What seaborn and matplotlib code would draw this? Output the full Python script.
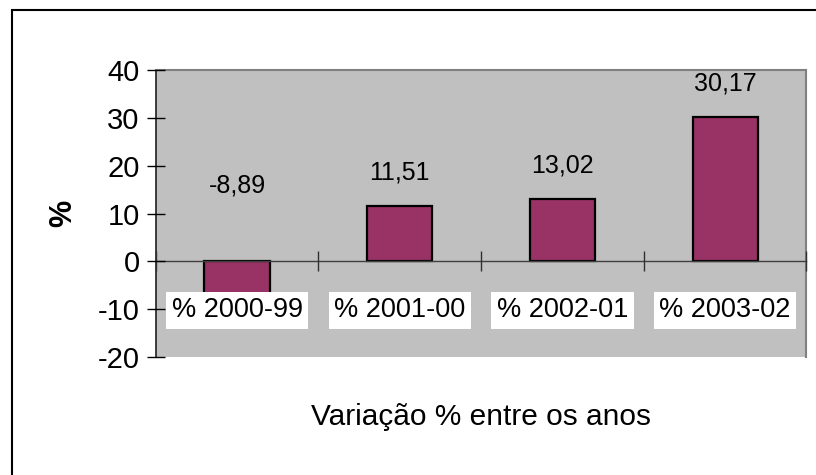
import numpy as np
import pandas as pd
import matplotlib
matplotlib.use("Agg")
import matplotlib.pyplot as plt
from matplotlib.patches import Rectangle
from matplotlib.ticker import FixedLocator
import seaborn as sns

# chart data
periods = ["% 2000-99", "% 2001-00", "% 2002-01", "% 2003-02"]
variation = [-8.89, 11.51, 13.02, 30.17]
y_ticks = [-20, -10, 0, 10, 20, 30, 40]
x_title = "Variação % entre os anos"
y_title = "%"

sns.set_style("white")
plt.rcParams['font.family'] = ['Liberation Sans Narrow', 'Liberation Sans', 'DejaVu Sans']
plt.rcParams['text.color'] = 'black'
plt.rcParams['axes.labelcolor'] = 'black'
plt.rcParams['xtick.color'] = 'black'
plt.rcParams['ytick.color'] = 'black'

df = pd.DataFrame({"periodo": periods, "variacao": variation})

fig = plt.figure(figsize=(8.16, 4.75), dpi=100)
ax = fig.add_axes([0.1908, 0.2484, 0.7975, 0.6042])
ax.set_facecolor("#C0C0C0")

sns.barplot(data=df, x="periodo", y="variacao", color="#993366", saturation=1,
            width=0.4, edgecolor="black", linewidth=1.6, ax=ax, zorder=2)

ax.set_xlim(-0.5, len(periods) - 0.5)
ax.set_ylim(min(y_ticks), max(y_ticks))
ax.set_yticks(y_ticks)
ax.set_yticklabels([str(t) for t in y_ticks], fontsize=21)
ax.tick_params(axis="y", left=True, direction="inout", length=13, width=1, color="black", pad=5)

# x axis drawn at zero, category labels in white boxes
ax.spines["bottom"].set_position(("data", 0))
ax.spines["bottom"].set_color("#404040")
ax.spines["bottom"].set_linewidth(1)
ax.spines["bottom"].set_zorder(4)
ax.set_xticks(range(len(periods)))
ax.set_xticklabels(periods, fontsize=19.5,
                   bbox=dict(boxstyle="square,pad=0.2", facecolor="white", edgecolor="none"))
ax.tick_params(axis="x", which="major", bottom=True, length=0, pad=26)
ax.xaxis.set_minor_locator(FixedLocator(np.arange(-0.5, len(periods), 1.0)))
ax.tick_params(axis="x", which="minor", bottom=True, direction="inout", length=14,
               width=1, color="#303030")
ax.xaxis.set_zorder(5)
ax.yaxis.set_zorder(5)

for side in ["top", "right"]:
    ax.spines[side].set_color("#808080")
    ax.spines[side].set_linewidth(1.5)
ax.spines["left"].set_color("#202020")
ax.spines["left"].set_linewidth(1.2)

# data labels, excel style
for i, v in enumerate(variation):
    ax.annotate(f"{v:.2f}".replace(".", ","), (i, abs(v)), xytext=(0, 24),
                textcoords="offset points", ha="center", va="center", fontsize=18, zorder=6)

ax.set_xlabel(x_title, fontsize=21.5)
ax.xaxis.set_label_coords(0.5, -0.209)
ax.xaxis.label.set_va("center")
ax.set_ylabel(y_title, fontsize=22, fontweight="bold")
ax.yaxis.set_label_coords(-0.1424, 0.502)
ax.yaxis.label.set_va("center")

# outer frame of the chart
fig.patches.append(Rectangle((12 / 816, -0.5), 2, 0.979 + 0.5, transform=fig.transFigure,
                             fill=False, edgecolor="black", linewidth=1.5))

fig.savefig("out.png", dpi=100)
